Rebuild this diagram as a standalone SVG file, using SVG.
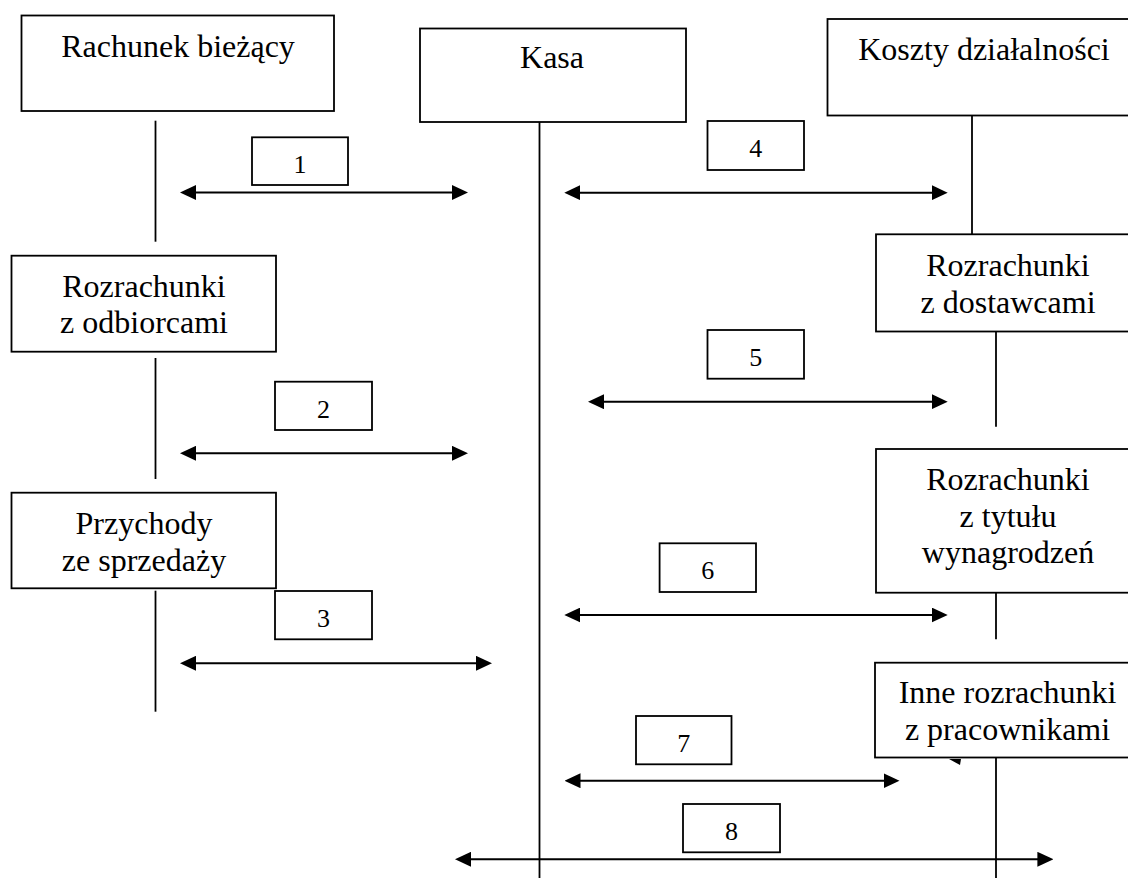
<svg xmlns="http://www.w3.org/2000/svg" width="1128" height="878" viewBox="0 0 1128 878">
<defs>
<marker id="ah" viewBox="0 0 16 15" markerWidth="16" markerHeight="15" refX="8" refY="7.5" orient="auto-start-reverse" markerUnits="userSpaceOnUse">
<path d="M0,0 L16,7.5 L0,15 z" fill="#000"/>
</marker>
</defs>
<style>
.box{fill:#fff;stroke:#000;stroke-width:1.8}
.vl{stroke:#000;stroke-width:1.8;fill:none}
.ar{stroke:#000;stroke-width:2;fill:none;marker-start:url(#ah);marker-end:url(#ah)}
.t{font-family:"Liberation Serif","Times New Roman",serif;font-size:32px;fill:#000;text-anchor:middle}
.n{font-family:"Liberation Serif","Times New Roman",serif;font-size:26px;fill:#000;text-anchor:middle}
</style>
<rect width="1128" height="878" fill="#fff"/>
<g id="connectors">
<line class="vl" x1="155.5" y1="120.7" x2="155.5" y2="241.7"/>
<line class="vl" x1="155.5" y1="358" x2="155.5" y2="479"/>
<line class="vl" x1="155.5" y1="590.7" x2="155.5" y2="711.7"/>
<line class="vl" x1="539.5" y1="122" x2="539.5" y2="878"/>
<line class="vl" x1="972" y1="115.5" x2="972" y2="234.3"/>
<line class="vl" x1="996" y1="331.5" x2="996" y2="426.7"/>
<line class="vl" x1="996" y1="592.7" x2="996" y2="639.3"/>
<line class="vl" x1="996" y1="757.5" x2="996" y2="878"/>
<polygon points="949,759 961,759 960,765" fill="#000"/>
<line class="ar" x1="188" y1="192.5" x2="460" y2="192.5"/>
<line class="ar" x1="188" y1="453.3" x2="460" y2="453.3"/>
<line class="ar" x1="188" y1="663.3" x2="484" y2="663.3"/>
<line class="ar" x1="572.3" y1="192.7" x2="939.7" y2="192.7"/>
<line class="ar" x1="596" y1="401.7" x2="939.7" y2="401.7"/>
<line class="ar" x1="572.3" y1="615" x2="939.7" y2="615"/>
<line class="ar" x1="572.5" y1="780.7" x2="891.5" y2="780.7"/>
<line class="ar" x1="463" y1="859.3" x2="1045.4" y2="859.3"/>
</g>
<g id="label1"><rect class="box" x="252" y="137.3" width="96" height="47.7"/><text class="n" x="300" y="173.3">1</text></g>
<g id="label2"><rect class="box" x="275" y="381.7" width="97" height="48.3"/><text class="n" x="323.5" y="417.7">2</text></g>
<g id="label3"><rect class="box" x="275" y="591" width="97" height="48.3"/><text class="n" x="323.5" y="627">3</text></g>
<g id="label4"><rect class="box" x="707.5" y="121" width="96.5" height="49"/><text class="n" x="755.8" y="157">4</text></g>
<g id="label5"><rect class="box" x="707.5" y="330" width="96.5" height="48.7"/><text class="n" x="755.8" y="366">5</text></g>
<g id="label6"><rect class="box" x="659.6" y="543.3" width="96.4" height="48.7"/><text class="n" x="707.8" y="579.3">6</text></g>
<g id="label7"><rect class="box" x="636" y="716" width="95.5" height="48.3"/><text class="n" x="683.8" y="752">7</text></g>
<g id="label8"><rect class="box" x="683" y="804" width="97" height="48.3"/><text class="n" x="731.5" y="840">8</text></g>
<g id="rachunek"><rect class="box" x="21.5" y="15.5" width="312.5" height="95.5"/><text class="t" x="178" y="57">Rachunek bieżący</text></g>
<g id="kasa"><rect class="box" x="420" y="28.5" width="266" height="93.5"/><text class="t" x="552" y="68">Kasa</text></g>
<g id="koszty"><rect class="box" x="827.5" y="19" width="320" height="96.5"/><text class="t" x="984" y="60">Koszty działalności</text></g>
<g id="odbiorcy"><rect class="box" x="11.5" y="255.7" width="264.5" height="96"/><text class="t" x="144" y="296.7">Rozrachunki</text><text class="t" x="144" y="333.3">z odbiorcami</text></g>
<g id="przychody"><rect class="box" x="11.5" y="492.7" width="264.5" height="95.6"/><text class="t" x="144" y="534">Przychody</text><text class="t" x="144" y="570.5">ze sprzedaży</text></g>
<g id="dostawcy"><rect class="box" x="876" y="234.3" width="270" height="97.2"/><text class="t" x="1008" y="276">Rozrachunki</text><text class="t" x="1008" y="313">z dostawcami</text></g>
<g id="wynagrodzenia"><rect class="box" x="876" y="449" width="270" height="143.7"/><text class="t" x="1008" y="490">Rozrachunki</text><text class="t" x="1008" y="526.7">z tytułu</text><text class="t" x="1008" y="563.3">wynagrodzeń</text></g>
<g id="inne"><rect class="box" x="875" y="662.7" width="270" height="94.8"/><text class="t" x="1007.5" y="703">Inne rozrachunki</text><text class="t" x="1007.5" y="739.5">z pracownikami</text></g>
</svg>
